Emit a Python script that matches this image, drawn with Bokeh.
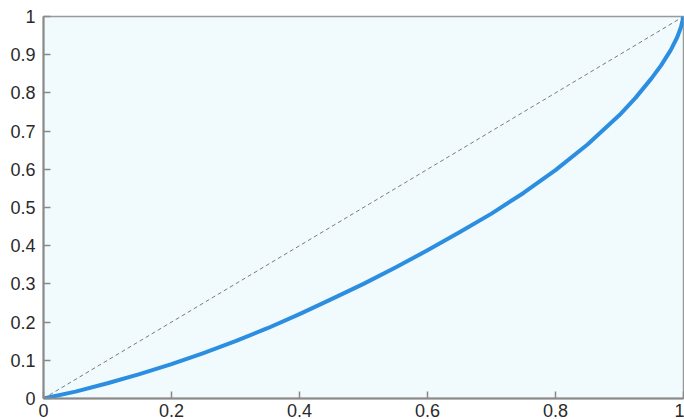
from bokeh.plotting import figure
from bokeh.models import FixedTicker, Range1d
from bokeh.embed import file_html
from bokeh.resources import INLINE

# Curve (cumulative share)
curve_x = [0, 0.05, 0.1, 0.15, 0.2, 0.25, 0.3, 0.35, 0.4, 0.45, 0.5, 0.55, 0.6,
           0.65, 0.7, 0.75, 0.8, 0.85, 0.9, 0.925, 0.95, 0.965, 0.98, 0.99, 0.996, 1.0]
curve_y = [0, 0.018, 0.040, 0.064, 0.090, 0.119, 0.150, 0.184, 0.221, 0.260, 0.300,
           0.343, 0.388, 0.435, 0.484, 0.538, 0.598, 0.665, 0.742, 0.787, 0.838,
           0.872, 0.912, 0.945, 0.972, 1.0]
diag_x = [0, 1]
diag_y = [0, 1]
x_ticks = [0, 0.2, 0.4, 0.6, 0.8, 1]
y_ticks = [0, 0.1, 0.2, 0.3, 0.4, 0.5, 0.6, 0.7, 0.8, 0.9, 1]
x_labels = ["0", "0.2", "0.4", "0.6", "0.8", "1"]
y_labels = ["0", "0.1", "0.2", "0.3", "0.4", "0.5", "0.6", "0.7", "0.8", "0.9", "1"]

p = figure(width=684, height=419, output_backend="svg", toolbar_location=None,
           x_range=Range1d(0, 1), y_range=Range1d(0, 1),
           min_border_left=43, min_border_right=1, min_border_top=16, min_border_bottom=20)
p.background_fill_color = "#f1fafd"
p.border_fill_color = "white"
p.outline_line_color = "#9a9a9a"
p.outline_line_width = 1.5
p.grid.visible = False

p.line(diag_x, diag_y, line_color="#7a7a7a", line_width=1, line_dash="4 3")
p.line(curve_x, curve_y, line_color="#2b8ee0", line_width=4, line_join="round")

for ax, ticks, labels in ((p.xaxis[0], x_ticks, x_labels), (p.yaxis[0], y_ticks, y_labels)):
    ax.ticker = FixedTicker(ticks=ticks)
    ax.major_label_overrides = {t: l for t, l in zip(ticks, labels)}
    ax.minor_tick_line_color = None
    ax.major_tick_in = 7
    ax.major_tick_out = 0
    ax.axis_line_color = "#8a8a8a"
    ax.axis_line_width = 2
    ax.major_tick_line_color = "#8a8a8a"
    ax.major_tick_line_width = 1.5
    ax.major_label_text_font = "Liberation Sans"
    ax.major_label_text_font_size = "18px"
    ax.major_label_text_color = "#2a2a2a"
p.yaxis.major_label_standoff = 8
p.xaxis.major_label_standoff = 5

open("out.html", "w").write(file_html(p, INLINE))
